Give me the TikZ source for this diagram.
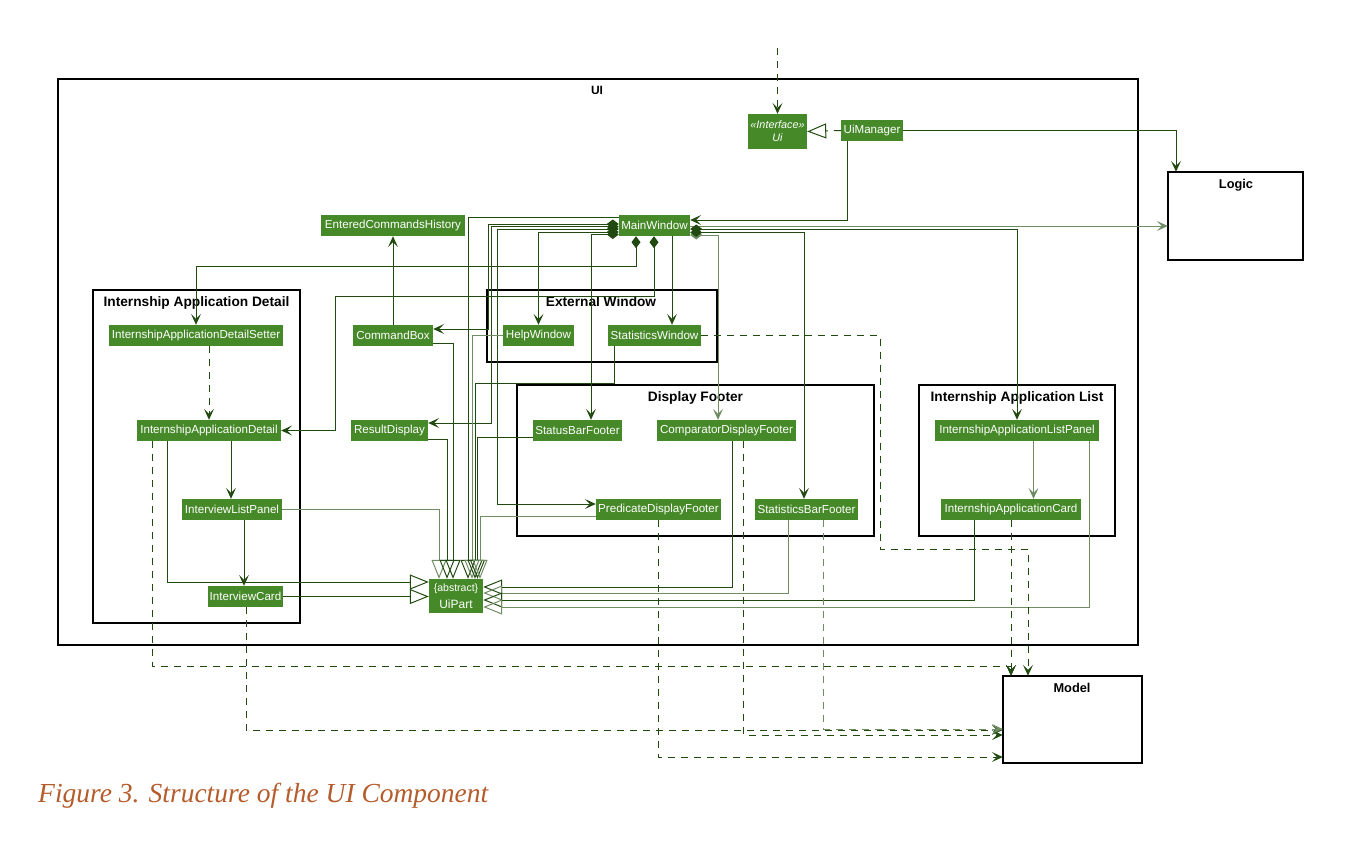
\documentclass[tikz,border=0pt]{standalone}
\usepackage{fontspec}
\setmainfont{Liberation Sans}
\newfontfamily\capfont{Liberation Serif}
\usetikzlibrary{arrows.meta}
\definecolor{boxgreen}{RGB}{70,137,40}
\definecolor{wire}{RGB}{33,74,17}
\definecolor{wirelight}{RGB}{112,140,98}
\definecolor{capcolor}{RGB}{181,92,44}

\begin{document}
\begin{tikzpicture}[x=1pt,y=-1pt,
  cls/.style={fill=boxgreen, text=white, inner sep=0pt, minimum height=21pt,
    font=\fontsize{11.6}{13}\selectfont},
  frame/.style={draw=black, line width=1.3pt},
  ftitle/.style={font=\bfseries\fontsize{13.7}{15}\selectfont, anchor=base, inner sep=0pt},
  wireline/.style={draw=wire, line width=1pt},
  assoc/.style={wireline, -{Stealth[length=11pt,width=10pt,inset=5pt]}},
  comp/.style={wireline, {Diamond[length=12pt,width=9pt]}-{Stealth[length=11pt,width=10pt,inset=5pt]}},
  inh/.style={wireline, -{Triangle[open,length=19pt,width=15pt]}},
  dep/.style={assoc, dash pattern=on 7pt off 6pt},
  real/.style={inh, dash pattern=on 7pt off 6pt},
  light/.style={draw=wirelight},
]
\useasboundingbox (0,0) rectangle (1354,846);

% ---------- packages ----------
\draw[frame] (58,79) rectangle (1138,645);
\node[ftitle, font=\bfseries\fontsize{12}{14}\selectfont] (uititle) at (597,94) {UI};
\draw[frame] (1168,172) rectangle (1303,260);
\node[ftitle, font=\bfseries\fontsize{12.8}{14}\selectfont] (logictitle) at (1236,188) {Logic};
\draw[frame] (1003,676) rectangle (1142,763);
\node[ftitle, font=\bfseries\fontsize{12.8}{14}\selectfont] (modeltitle) at (1072,692) {Model};
\node[minimum width=135pt, minimum height=88pt, inner sep=0pt] (logic) at (1235.5,216) {};
\node[minimum width=139pt, minimum height=87pt, inner sep=0pt] (model) at (1072.5,719.5) {};

\draw[frame] (93,290) rectangle (300,623);
\node[ftitle] (gdetail) at (196.5,306) {Internship Application Detail};
\draw[frame] (487,290) rectangle (717,362);
\node[ftitle] (gext) at (601,306) {External Window};
\draw[frame] (517,385) rectangle (874,536);
\node[ftitle] (gfoot) at (695.5,401) {Display Footer};
\draw[frame] (919,385) rectangle (1115,536);
\node[ftitle] (glist) at (1017,401) {Internship Application List};

% ---------- classes ----------
\node[cls, minimum width=59pt, minimum height=35pt, align=center,
  font=\itshape\fontsize{10.8}{13}\selectfont] (ui) at (777.5,131.5) {«Interface»\\Ui};
\node[cls, minimum width=62pt] (uimgr) at (872,130.5) {UiManager};
\node[cls, minimum width=71pt] (mainw) at (654.5,225.5) {MainWindow};
\node[cls, minimum width=144pt] (ech) at (393,225.5) {EnteredCommandsHistory};
\node[cls, minimum width=174pt] (setter) at (196,335.5) {InternshipApplicationDetailSetter};
\node[cls, minimum width=80pt] (cmdbox) at (393,335.5) {CommandBox};
\node[cls, minimum width=71pt] (help) at (538.5,335.5) {HelpWindow};
\node[cls, minimum width=93pt] (statwin) at (654.5,335.5) {StatisticsWindow};
\node[cls, minimum width=144pt] (detail) at (209,430.5) {InternshipApplicationDetail};
\node[cls, minimum width=77pt] (result) at (389.5,430.5) {ResultDisplay};
\node[cls, minimum width=89pt] (statusbar) at (577.5,430.5) {StatusBarFooter};
\node[cls, minimum width=139pt] (comparator) at (726.5,430.5) {ComparatorDisplayFooter};
\node[cls, minimum width=164pt] (listpanel) at (1017,430.5) {InternshipApplicationListPanel};
\node[cls, minimum width=100pt] (ilp) at (232,509.5) {InterviewListPanel};
\node[cls, minimum width=125pt] (pdf) at (658.5,509.5) {PredicateDisplayFooter};
\node[cls, minimum width=103pt] (statsbar) at (806.5,509.5) {StatisticsBarFooter};
\node[cls, minimum width=140pt] (iacard) at (1011,509.5) {InternshipApplicationCard};
\node[cls, minimum width=75pt] (icard) at (245.5,596.5) {InterviewCard};
\node[cls, minimum width=54pt, minimum height=34pt, align=center,
  font=\fontsize{12}{17}\selectfont] (uipart) at (456,596)
  {{\fontsize{10.5}{12}\selectfont\{abstract\}}\\UiPart};

% ---------- Ui interface ----------
\coordinate (caller) at (777.5,48);
\draw[dep] (caller) -- (ui.north);
\draw[real] (uimgr.west) -- (ui.east);
\draw[assoc] (uimgr.east) -| (logic.north -| 1176,0);
\draw[assoc] (uimgr.south -| 847,0) |- (mainw.east |- 0,220);
\draw[assoc, light] (mainw.east |- 0,226) -- (logic.west |- 0,226);

% ---------- MainWindow parts ----------
\draw[comp] (mainw.west |- 0,224) -| (488,329) -- (cmdbox.east |- 0,329);
\draw[comp] (mainw.west |- 0,226.7) -| (491,423) -- (result.east |- 0,423);
\draw[comp] (mainw.west |- 0,229) -| (497,504) -- (pdf.west |- 0,504);
\draw[comp] (mainw.west |- 0,232) -| (help.north);
\draw[comp] (mainw.west |- 0,234.5) -| (statusbar.north -| 591,0);
\draw[comp] (mainw.south -| 636,0) |- (setter.north |- 0,266) -- (setter.north);
\draw[comp] (mainw.south -| 654,0) |- (335,296) |- (detail.east);
\draw[assoc] (mainw.south -| 672,0) -- (statwin.north -| 672,0);
\draw[comp, light] (mainw.east |- 0,235) -| (comparator.north -| 718,0);
\draw[comp] (mainw.east |- 0,232.5) -| (statsbar.north -| 804,0);
\draw[comp] (mainw.east |- 0,229) -| (listpanel.north);

% ---------- other associations ----------
\draw[assoc] (cmdbox.north) -- (ech.south);
\draw[dep] (setter.south -| 209,0) -- (detail.north);
\draw[assoc] (detail.south -| 231,0) -- (ilp.north -| 231,0);
\draw[assoc] (ilp.south -| 244,0) -- (icard.north -| 244,0);
\draw[assoc, light] (listpanel.south -| 1033.5,0) -- (iacard.north -| 1033.5,0);

% ---------- UiPart hierarchy ----------
\draw[inh] (detail.south -| 167,0) |- (uipart.west |- 0,582);
\draw[inh] (icard.east) -- (uipart.west |- 0,596.5);
\draw[inh, light] (ilp.east) -| (uipart.north -| 439,0);
\draw[inh] (result.east |- 0,439) -| (uipart.north -| 447,0);
\draw[inh] (cmdbox.east |- 0,343) -| (uipart.north -| 453,0);
\draw[inh] (mainw.west |- 0,217) -| (uipart.north -| 468,0);
\draw[inh, light] (help.west) -| (uipart.north -| 472,0);
\draw[inh] (statwin.south -| 614,0) |- (475,383) -- (uipart.north -| 475,0);
\draw[inh] (statusbar.west |- 0,437) -| (uipart.north -| 477.5,0);
\draw[inh, light] (pdf.west |- 0,516) -| (uipart.north -| 480,0);
\draw[inh] (comparator.south -| 732,0) |- (uipart.east |- 0,587);
\draw[inh, light] (statsbar.south -| 788.5,0) |- (uipart.east |- 0,593);
\draw[inh] (iacard.south -| 974,0) |- (uipart.east |- 0,600);
\draw[inh, light] (listpanel.south -| 1089,0) |- (uipart.east |- 0,607);

% ---------- dependencies on Model ----------
\draw[dep] (detail.south -| 152,0) |- (1011,666) -- (model.north -| 1011,0);
\draw[dep] (iacard.south -| 1011,0) -- (model.north -| 1011,0);
\draw[dep] (statwin.east) -| (880,549) -| (model.north -| 1028,0);
\draw[dep] (icard.south -| 246,0) |- (model.west |- 0,730);
\draw[dep] (comparator.south -| 743.5,0) |- (model.west |- 0,735);
\draw[dep, light] (statsbar.south -| 823.5,0) |- (model.west |- 0,729);
\draw[dep] (pdf.south -| 658,0) |- (model.west |- 0,757);

% ---------- caption ----------
\node[anchor=base west, inner sep=0pt, text=capcolor,
  font=\capfont\itshape\fontsize{27.5}{32}\selectfont] (caption) at (38,802)
  {Figure 3. Structure of the UI Component};
\end{tikzpicture}
\end{document}
